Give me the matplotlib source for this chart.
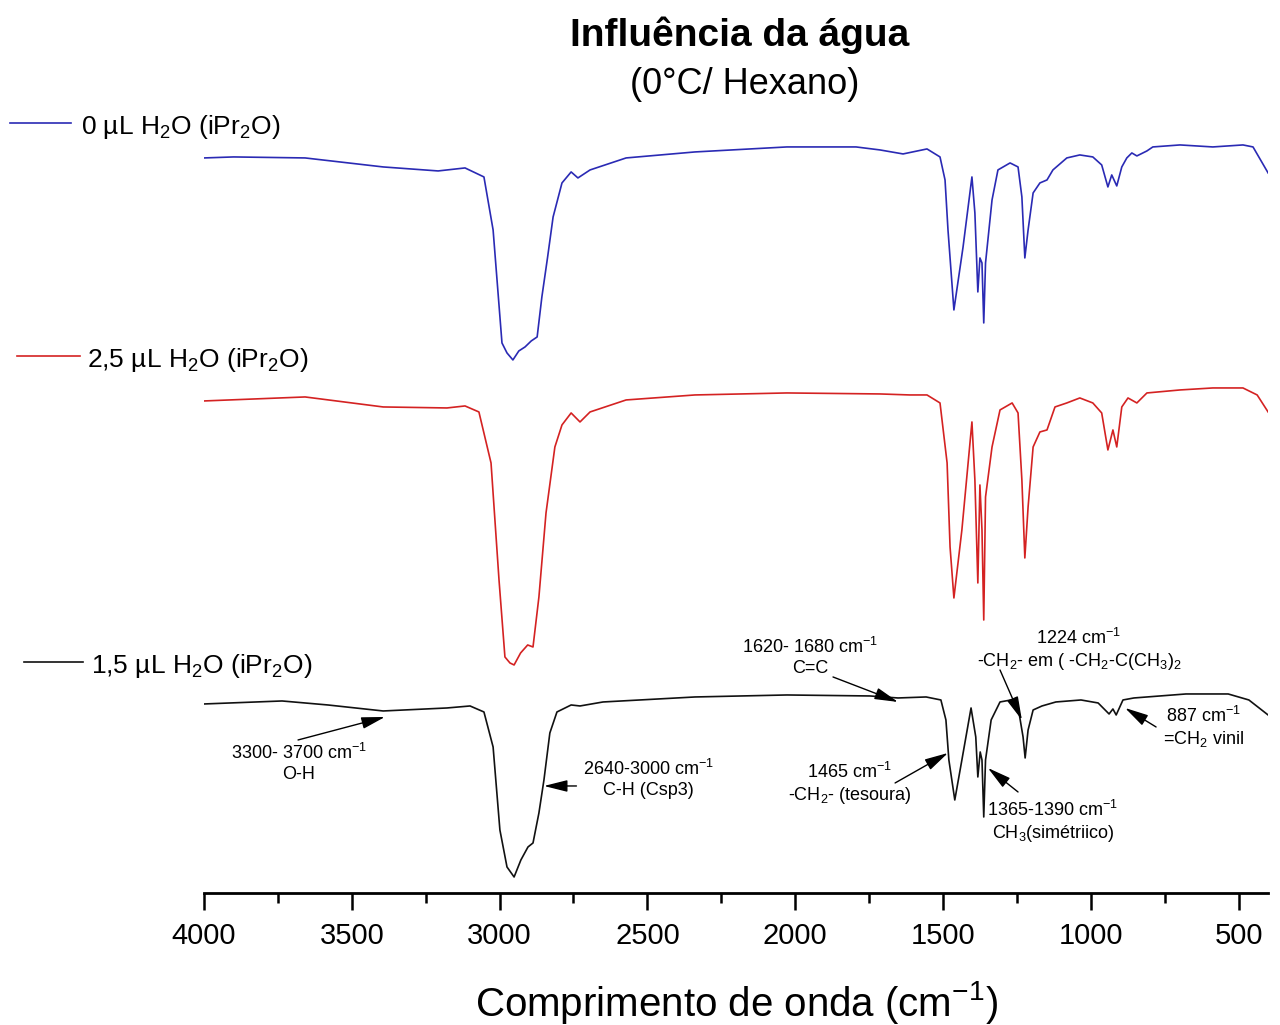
import matplotlib
matplotlib.use("Agg")
import matplotlib.pyplot as plt
from matplotlib.lines import Line2D
from matplotlib.ticker import MultipleLocator

plt.rcParams['font.family'] = ['Liberation Sans', 'DejaVu Sans']
plt.rcParams['mathtext.fontset'] = 'custom'
plt.rcParams['mathtext.rm'] = 'Liberation Sans'
plt.rcParams['mathtext.default'] = 'regular'

# espectros FTIR (numero de onda em cm-1, transmitancia u.a. ja empilhada)
wn_azul = [4000, 3900, 3658, 3394, 3208, 3117, 3053, 3022, 2992, 2975, 2955, 2935, 2914, 2893, 2873,
           2857, 2838, 2819, 2789, 2758, 2735, 2694, 2572, 2339, 2028, 1794, 1713, 1635, 1554, 1510,
           1493, 1483, 1463, 1432, 1402, 1392, 1382, 1375, 1368, 1362, 1356, 1334, 1314, 1273, 1246,
           1233, 1223, 1212, 1195, 1172, 1148, 1128, 1081, 1037, 993, 963, 942, 929, 912, 895, 878,
           861, 844, 810, 790, 698, 587, 485, 451, 400]
t_azul = [73.5, 73.6, 73.5, 72.6, 72.2, 72.5, 71.6, 66.3, 55.0, 54.0, 53.3, 54.2, 54.6, 55.2, 55.6,
          59.6, 63.5, 67.6, 71.0, 72.1, 71.5, 72.3, 73.5, 74.1, 74.6, 74.6, 74.3, 73.9, 74.4, 73.6,
          71.3, 66.3, 58.3, 64.6, 71.6, 68.0, 60.1, 63.5, 63.0, 57.0, 63.0, 69.3, 72.3, 73.0, 72.6,
          69.6, 63.5, 66.3, 70.0, 71.0, 71.3, 72.3, 73.5, 73.8, 73.6, 72.8, 70.6, 71.8, 70.7, 72.6, 73.5,
          74.0, 73.7, 74.2, 74.6, 74.8, 74.6, 74.8, 74.6, 72.0]

wn_verm = [4000, 3658, 3394, 3178, 3117, 3070, 3029, 3002, 2982, 2965, 2951, 2929, 2905, 2887, 2867,
           2843, 2813, 2789, 2758, 2728, 2694, 2572, 2339, 2028, 1713, 1612, 1554, 1510, 1486, 1476,
           1463, 1436, 1402, 1392, 1382, 1375, 1368, 1362, 1356, 1334, 1307, 1266, 1246, 1233, 1223,
           1212, 1195, 1172, 1148, 1121, 1081, 1037, 993, 963, 942, 925, 912, 895, 874, 844, 810, 698,
           587, 485, 437, 400]
t_verm = [49.2, 49.6, 48.6, 48.5, 48.7, 48.1, 43.0, 31.3, 23.6, 23.0, 22.8, 24.0, 24.8, 24.6, 29.6,
          38.0, 44.6, 46.8, 48.0, 47.1, 48.1, 49.3, 49.8, 50.0, 49.9, 49.8, 49.8, 49.0, 43.0, 34.6,
          29.5, 36.3, 47.1, 41.3, 31.0, 40.8, 36.3, 27.3, 39.6, 44.6, 48.3, 49.0, 48.0, 41.3, 33.5,
          38.6, 44.6, 46.1, 46.3, 48.6, 49.0, 49.5, 49.0, 48.0, 44.3, 46.3, 44.6, 48.6, 49.5, 49.0, 50.0, 50.3,
          50.5, 50.5, 49.8, 48.1]

wn_preto = [4000, 3736, 3581, 3394, 3178, 3100, 3053, 3022, 2999, 2975, 2951, 2928, 2904, 2887, 2867,
            2850, 2830, 2806, 2758, 2728, 2650, 2339, 2028, 1747, 1652, 1557, 1507, 1490, 1480, 1460,
            1436, 1405, 1389, 1382, 1374, 1368, 1362, 1356, 1337, 1307, 1270, 1246, 1229, 1222, 1212,
            1195, 1165, 1118, 1033, 975, 938, 925, 914, 891, 854, 678, 535, 465, 400]
t_preto = [18.9, 19.2, 18.8, 18.2, 18.5, 18.7, 18.1, 14.6, 6.3, 2.6, 1.6, 3.3, 4.6, 5.0, 8.0,
           11.3, 16.0, 18.1, 18.8, 18.7, 19.1, 19.6, 19.8, 19.7, 19.5, 19.6, 19.3, 17.3, 13.3, 9.3,
           13.3, 18.5, 15.6, 11.6, 14.1, 13.3, 7.6, 13.3, 17.3, 19.1, 19.3, 18.6, 15.6, 13.5, 16.3,
           18.3, 18.7, 19.1, 19.3, 19.0, 17.9, 18.4, 17.8, 19.3, 19.5, 19.9, 19.9, 19.3, 17.8]

rotulos = [r'0 µL H$_2$O (iPr$_2$O)', r'2,5 µL H$_2$O (iPr$_2$O)', r'1,5 µL H$_2$O (iPr$_2$O)']
cores = ['#2a2ab4', '#d42222', '#111111']

# anotacoes: texto, posicao do texto, cauda e ponta da seta
anotacoes = [
    ('3300- 3700 cm$^{-1}$\nO-H', (3680, 13.0), (3682, 15.3), (3388, 17.6)),
    ('2640-3000 cm$^{-1}$\nC-H (Csp3)', (2495, 11.4), (2740, 10.7), (2850, 10.7)),
    ('1620- 1680 cm$^{-1}$\nC=C', (1950, 23.6), (1872, 21.6), (1652, 19.1)),
    ('1224 cm$^{-1}$\n-CH$_2$- em ( -CH$_2$-C(CH$_3$)$_2$', (1040, 24.3), (1307, 22.3), (1233, 17.3)),
    ('887 cm$^{-1}$\n=CH$_2$ vinil', (617, 16.6), (779, 16.6), (884, 18.5)),
    ('1465 cm$^{-1}$\n-CH$_2$- (tesoura)', (1815, 10.9), (1662, 11.0), (1483, 14.0)),
    ('1365-1390 cm$^{-1}$\nCH$_3$(simétriico)', (1128, 7.1), (1246, 10.1), (1348, 12.5)),
]

fig = plt.figure(figsize=(12.8, 10.25), dpi=100)
ax = fig.add_axes([0.1594, 0.1288, 0.8313, 0.7737])

ax.plot(wn_azul, t_azul, color=cores[0], lw=1.2)
ax.plot(wn_verm, t_verm, color=cores[1], lw=1.2)
ax.plot(wn_preto, t_preto, color=cores[2], lw=1.2)

ax.set_xlim(4000, 400)
ax.set_ylim(0, 79.3)
for s in ['top', 'left', 'right']:
    ax.spines[s].set_visible(False)
ax.spines['bottom'].set_linewidth(2.0)
ax.set_yticks([])
ax.xaxis.set_major_locator(MultipleLocator(500))
ax.xaxis.set_minor_locator(MultipleLocator(250))
ax.tick_params(axis='x', which='major', direction='out', length=12, width=1.8, pad=9, labelsize=21)
ax.tick_params(axis='x', which='minor', direction='out', length=7, width=1.8)
ax.set_xlabel('Comprimento de onda (cm$^{-1}$)', fontsize=29)
ax.xaxis.set_label_coords(0.5, -0.108)

for txt, pos, cauda, ponta in anotacoes:
    ax.text(pos[0], pos[1], txt, ha='center', va='center', fontsize=13)
    ax.annotate('', xy=ponta, xytext=cauda,
                arrowprops=dict(arrowstyle='-|>,head_length=0.6,head_width=0.15', color='k',
                                lw=1.0, mutation_scale=24, shrinkA=0, shrinkB=0))

# legendas ao lado de cada curva
leg_y = [123, 356, 662]
leg_x = [(10, 71, 81), (17, 80, 87), (24, 83, 91)]
for r, c, y, (x0, x1, xt) in zip(rotulos, cores, leg_y, leg_x):
    fig.add_artist(Line2D([x0 / 1280, x1 / 1280], [1 - y / 1025, 1 - y / 1025], color=c, lw=1.2))
    fig.text(xt / 1280, 1 - (y + 11) / 1025, r, fontsize=19, va='baseline', ha='left')

fig.text(0.578, 1 - 35 / 1025, 'Influência da água', fontsize=28, fontweight='bold', ha='center', va='center')
fig.text(0.582, 1 - 85 / 1025, '(0°C/ Hexano)', fontsize=26, ha='center', va='center')

fig.savefig('out.png', dpi=100)
